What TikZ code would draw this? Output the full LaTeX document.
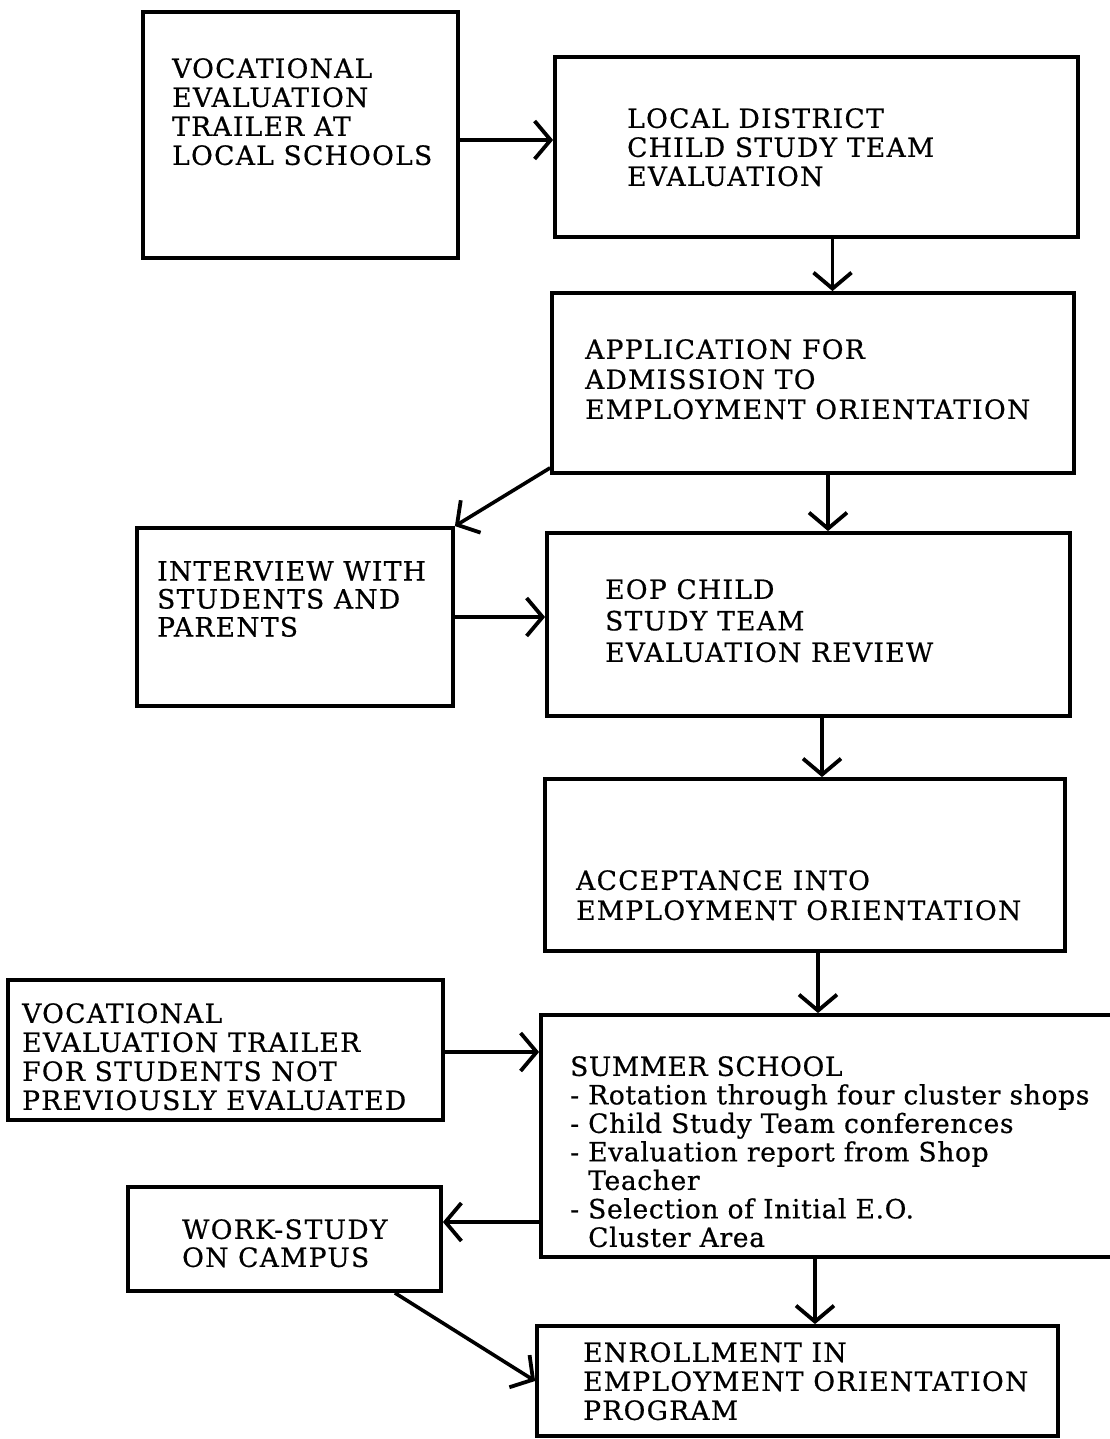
\documentclass[tikz,border=0pt]{standalone}
\usepackage{fontspec}
\setmainfont{DejaVu Serif}[LetterSpace=5,FakeBold=0.6]
\usetikzlibrary{arrows.meta}
\begin{document}
\begin{tikzpicture}[x=1pt,y=-1pt,
  box/.style={draw=black,line width=3.8pt,minimum width=#1,inner sep=0pt},
  txt/.style={anchor=north west,inner sep=0pt,align=left,font=\fontsize{26.5}{#1}\selectfont},
  txtlist/.style={anchor=north west,inner sep=0pt,align=left,
    font=\fontsize{26.5}{#1}\selectfont\addfontfeature{LetterSpace=2.5}},
  flow/.style={line width=3.6pt,-{Straight Barb[length=16pt,width=38pt,line width=3.8pt]}}]
\useasboundingbox (0,0) rectangle (1110,1439);
\fill[white] (0,0) rectangle (1110,1439);

% boxes of the flow
\node[box=315pt,minimum height=246pt] (b1) at (300.5,135) {};
\node[box=523pt,minimum height=180pt] (b2) at (816.5,147) {};
\node[box=522pt,minimum height=180pt] (b3) at (813,383) {};
\node[box=316pt,minimum height=178pt] (b4) at (295,617) {};
\node[box=523pt,minimum height=183pt] (b5) at (808.5,624.5) {};
\node[box=520pt,minimum height=172pt] (b6) at (805,865) {};
\node[box=435pt,minimum height=140pt] (b7) at (225.5,1050) {};
\node[box=579pt,minimum height=242pt] (b8) at (830.5,1136) {};
\node[box=313pt,minimum height=104pt] (b9) at (284.5,1239) {};
\node[box=521pt,minimum height=110pt] (b10) at (797.5,1381) {};

% box texts
\node[txt=29] (t1) at (172,58) {VOCATIONAL\\EVALUATION\\TRAILER AT\\LOCAL SCHOOLS};
\node[txt=29] (t2) at (627,108) {LOCAL DISTRICT\\CHILD STUDY TEAM\\EVALUATION};
\node[txt=30] (t3) at (585,339) {APPLICATION FOR\\ADMISSION TO\\EMPLOYMENT ORIENTATION};
\node[txt=28] (t4) at (157,561) {INTERVIEW WITH\\STUDENTS AND\\PARENTS};
\node[txt=31.5] (t5) at (605,579) {EOP CHILD\\STUDY TEAM\\EVALUATION REVIEW};
\node[txt=30] (t6) at (576,870) {ACCEPTANCE INTO\\EMPLOYMENT ORIENTATION};
\node[txt=29] (t7) at (22,1003) {VOCATIONAL\\EVALUATION TRAILER\\FOR STUDENTS NOT\\PREVIOUSLY EVALUATED};
\node[txtlist=28.5] (t8) at (570,1056) {SUMMER SCHOOL\\
- Rotation through four cluster shops\\
- Child Study Team conferences\\
- Evaluation report from Shop\\
\phantom{- }Teacher\\
- Selection of Initial E.O.\\
\phantom{- }Cluster Area};
\node[txt=28] (t9) at (182,1219) {WORK-S\kern2pt TUDY\\ON CAMPUS};
\node[txt=29] (t10) at (583,1342) {ENROLLMENT IN\\EMPLOYMENT ORIENTATION\\PROGRAM};

% connectors
\draw[flow] ([yshift=-5pt]b1.east) -- ([yshift=-5pt]b1.east -| b2.west);
\draw[flow] ([xshift=16pt]b2.south) -- ([xshift=16pt]b2.south |- b3.north);
\draw[flow] ([xshift=15pt]b3.south) -- ([xshift=15pt]b3.south |- b5.north);
\draw[flow] ([yshift=7pt]b3.south west) -- (b4.north east);
\draw[flow] (b4.east) -- (b4.east -| b5.west);
\draw[flow] ([xshift=13.5pt]b5.south) -- ([xshift=13.5pt]b5.south |- b6.north);
\draw[flow] ([xshift=13pt]b6.south) -- ([xshift=13pt]b6.south |- b8.north);
\draw[flow] ([yshift=-2pt]b7.east) -- ([yshift=-2pt]b7.east -| b8.west);
\draw[flow] ([yshift=-86pt]b8.west) -- ([yshift=-86pt]b8.west -| b9.east);
\draw[flow] ([xshift=-15.5pt]b8.south) -- ([xshift=-15.5pt]b8.south |- b10.north);
\draw[flow] ([xshift=-48pt]b9.south east) -- (b10.west);
\end{tikzpicture}
\end{document}
